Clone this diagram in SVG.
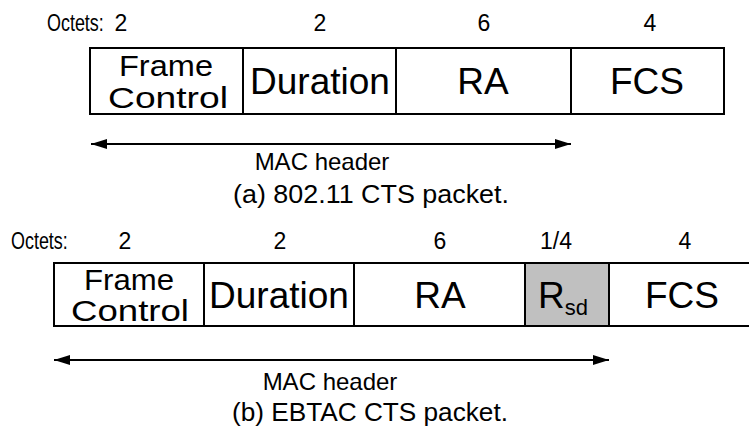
<svg xmlns="http://www.w3.org/2000/svg" width="749" height="435" viewBox="0 0 749 435">
  <style>
    text { font-family: "Liberation Sans", Arial, sans-serif; fill: #000; }
    .oct { font-size: 23px; }
    .num { font-size: 23px; text-anchor: middle; }
    .fld { font-size: 37px; text-anchor: middle; }
    .fld2 { font-size: 30px; text-anchor: middle; }
    .lbl { font-size: 24px; text-anchor: middle; }
    .cap { font-size: 25px; text-anchor: middle; }
    .box { fill: #fff; stroke: #000; stroke-width: 2; }
    .shade { fill: #c0c0c0; stroke: #000; stroke-width: 2; }
    .span { stroke: #000; stroke-width: 2; fill: none; }
  </style>
  <defs>
    <marker id="head" viewBox="0 0 16 10" refX="16" refY="5" markerWidth="16" markerHeight="10" markerUnits="userSpaceOnUse" orient="auto-start-reverse">
      <path d="M0,0 L16,5 L0,10 Z" fill="#000"/>
    </marker>
  </defs>
  <rect width="749" height="435" fill="#fff"/>

  <!-- (a) 802.11 CTS packet -->
  <g id="octets-a">
    <text class="oct" transform="translate(47,31) scale(0.78,1)">Octets:</text>
    <text class="num" x="121" y="31">2</text>
    <text class="num" x="320" y="31">2</text>
    <text class="num" x="484" y="31">6</text>
    <text class="num" x="650" y="31">4</text>
  </g>
  <g id="a-frame-control">
    <rect class="box" x="90" y="48" width="153" height="66"/>
    <text class="fld2" x="166" y="76" textLength="94" lengthAdjust="spacingAndGlyphs">Frame</text>
    <text class="fld2" x="168" y="108" textLength="120" lengthAdjust="spacingAndGlyphs">Control</text>
  </g>
  <g id="a-duration">
    <rect class="box" x="243" y="48" width="153" height="66"/>
    <text class="fld" x="320" y="94">Duration</text>
  </g>
  <g id="a-ra">
    <rect class="box" x="396" y="48" width="175" height="66"/>
    <text class="fld" x="483" y="94">RA</text>
  </g>
  <g id="a-fcs">
    <rect class="box" x="571" y="48" width="153" height="66"/>
    <text class="fld" x="647" y="94">FCS</text>
  </g>
  <g id="a-connectors">
    <line class="span" x1="91" y1="144" x2="571" y2="144" marker-start="url(#head)" marker-end="url(#head)"/>
  </g>
  <text class="lbl" x="322" y="170">MAC header</text>
  <text class="cap" x="371" y="203" textLength="276" lengthAdjust="spacingAndGlyphs">(a) 802.11 CTS packet.</text>

  <!-- (b) EBTAC CTS packet -->
  <g id="octets-b">
    <text class="oct" transform="translate(11,249) scale(0.78,1)">Octets:</text>
    <text class="num" x="125" y="249">2</text>
    <text class="num" x="280" y="249">2</text>
    <text class="num" x="440" y="249">6</text>
    <text class="num" x="556" y="249">1/4</text>
    <text class="num" x="685" y="249">4</text>
  </g>
  <g id="b-frame-control">
    <rect class="box" x="54" y="263" width="150" height="63"/>
    <text class="fld2" x="129" y="290" textLength="90" lengthAdjust="spacingAndGlyphs">Frame</text>
    <text class="fld2" x="130" y="321" textLength="118" lengthAdjust="spacingAndGlyphs">Control</text>
  </g>
  <g id="b-duration">
    <rect class="box" x="204" y="263" width="150" height="63"/>
    <text class="fld" x="279" y="308">Duration</text>
  </g>
  <g id="b-ra">
    <rect class="box" x="354" y="263" width="171" height="63"/>
    <text class="fld" x="440" y="308">RA</text>
  </g>
  <g id="b-rsd">
    <rect class="shade" x="525" y="263" width="84" height="63"/>
    <text class="fld" x="563" y="308">R<tspan font-size="22" dy="7">sd</tspan></text>
  </g>
  <g id="b-fcs">
    <rect class="box" x="609" y="263" width="145" height="63"/>
    <text class="fld" x="682" y="308">FCS</text>
  </g>
  <g id="b-connectors">
    <line class="span" x1="54" y1="360" x2="609" y2="360" marker-start="url(#head)" marker-end="url(#head)"/>
  </g>
  <text class="lbl" x="330" y="390">MAC header</text>
  <text class="cap" x="370" y="421" textLength="276" lengthAdjust="spacingAndGlyphs">(b) EBTAC CTS packet.</text>
</svg>
